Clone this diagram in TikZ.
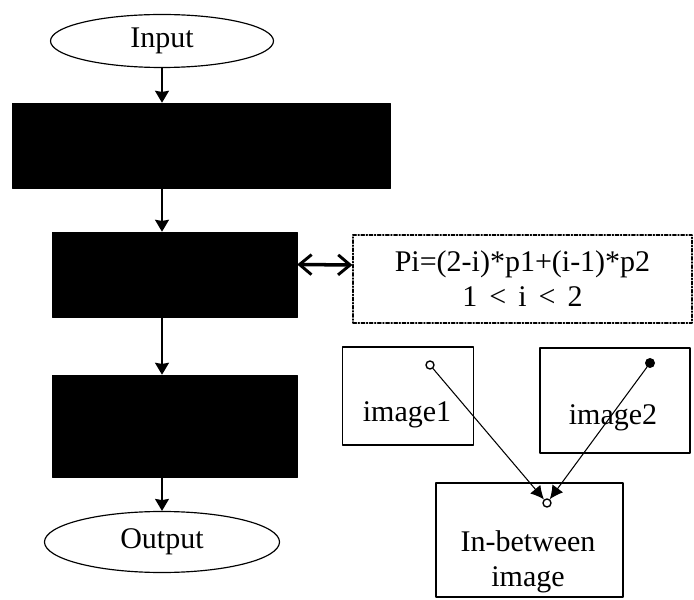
\documentclass[tikz,border=0pt]{standalone}
\usepackage{fontspec}
\setmainfont{Liberation Serif}
\usepackage{tikz}
\usetikzlibrary{arrows}
\usetikzlibrary{arrows.meta,shapes.geometric}

\begin{document}
\begin{tikzpicture}[line cap=round,line join=round,x=0.03cm,y=-0.03cm,
    font=\fontsize{25.6}{30}\selectfont,
    >={Stealth[inset=1pt,width=0.42cm,length=0.36cm]},
    terminal/.style={ellipse,draw,line width=1pt,inner sep=0pt},
    blackbox/.style={rectangle,draw,fill=black,inner sep=0pt},
    imgbox/.style={rectangle,draw,line width=1pt,inner sep=0pt},
    formbox/.style={rectangle,draw,line width=1pt,dash pattern=on 3pt off 1.5pt on 1pt off 1.5pt,align=center,inner sep=0pt},
    flow/.style={->,line width=1.3pt},
    twoway/.style={{Straight Barb[length=0.36cm,width=0.6cm,line width=2.5pt]}-{Straight Barb[length=0.36cm,width=0.6cm,line width=2.5pt]},line width=3pt},
    opendot/.style={circle,draw,fill=white,line width=1.2pt,inner sep=0pt,minimum size=0.24cm},
    fulldot/.style={circle,fill=black,inner sep=0pt,minimum size=0.3cm},
    link/.style={-{Latex[length=0.4cm,width=0.4cm]},line width=0.9pt}]
                \useasboundingbox (0,0) rectangle (694,600);
                % flow chart on the left
                \node[terminal,minimum width=6.69cm,minimum height=1.59cm] (input) at (162,41) {Input};
                \node[blackbox,minimum width=11.34cm,minimum height=2.55cm] (box1) at (201,145.5) {};
                \node[blackbox,minimum width=7.35cm,minimum height=2.55cm] (box2) at (174.5,274.5) {};
                \node[blackbox,minimum width=7.35cm,minimum height=3.06cm] (box3) at (174.5,426) {};
                \node[terminal,minimum width=7.05cm,minimum height=1.83cm] (output) at (162,542) {Output};
                \draw[flow] (input.south) -- (input.south |- box1.north);
                \draw[flow] (input.south |- box1.south) -- (input.south |- box2.north);
                \draw[flow] (input.south |- box2.south) -- (input.south |- box3.north);
                \draw[flow] (input.south |- box3.south) -- (output.north);
                % formula
                \node[formbox,minimum width=10.17cm,minimum height=2.64cm,text depth=0pt] (formula) at (522.5,279)
                    {Pi=(2-i)*p1+(i-1)*p2\\1\hspace{.4em}<\hspace{.4em}i\hspace{.4em}<\hspace{.4em}2};
                \draw[twoway] ([yshift=0.3cm]box2.east) -- ([yshift=0.42cm]formula.west);
                % images
                \node[imgbox,minimum width=3.93cm,minimum height=2.94cm] (img1) at (408,396) {};
                \node[imgbox,minimum width=4.5cm,minimum height=3.15cm] (img2) at (615,400.5) {};
                \node[imgbox,minimum width=5.61cm,minimum height=3.42cm] (mid) at (529.5,540) {};
                \node (img1txt) at (407,415) {image1};
                \node (img2txt) at (613,418) {image2};
                \node[align=center] (midtxt) at (528,562) {In-between\\image};
                \node[opendot] (p1) at (430,365) {};
                \node[fulldot] (p2) at (650,363) {};
                \node[opendot] (pm) at (547,503) {};
                \draw[link] (p1) -- (pm);
                \draw[link] (p2) -- (pm);
            \end{tikzpicture}
\end{document}
